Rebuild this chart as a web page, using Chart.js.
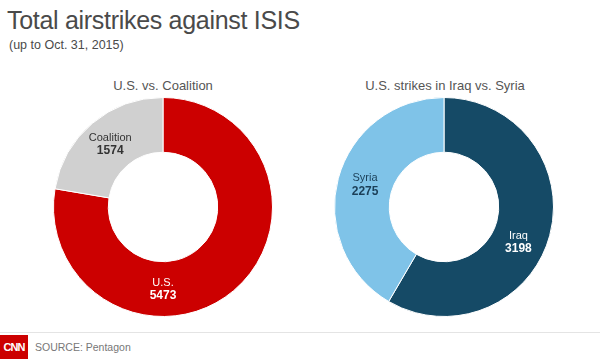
<!DOCTYPE html>
<html>
<head>
<meta charset="utf-8">
<script src="https://cdn.jsdelivr.net/npm/chart.js@4.4.0/dist/chart.umd.min.js"></script>
<style>
  html, body { margin:0; padding:0; background:#ffffff; }
  body { width:600px; height:359px; position:relative; overflow:hidden; font-family:"Liberation Sans", Arial, sans-serif; }
  #title { position:absolute; left:7px; top:6px; font-size:25px; color:#4a4a4a; letter-spacing:-0.3px; white-space:nowrap; }
  #subtitle { position:absolute; left:9px; top:38px; font-size:12.5px; color:#4a4a4a; white-space:nowrap; }
  .ctitle { position:absolute; top:78px; font-size:13px; color:#555; white-space:nowrap; transform:translateX(-50%); }
  .box { position:absolute; top:95px; width:224px; height:224px; }
  #footer { position:absolute; left:0; top:332px; width:600px; height:1px; background:#e4e4e4; }
  #logo { position:absolute; left:0; top:335px; width:28px; height:24px; background:#cc0000; color:#fff; font-weight:bold; font-size:11px; line-height:24px; text-align:center; letter-spacing:-1px; }
  #source { position:absolute; left:35px; top:341px; font-size:10.5px; color:#777; white-space:nowrap; }
</style>
</head>
<body>
<div id="title">Total airstrikes against ISIS</div>
<div id="subtitle">(up to Oct. 31, 2015)</div>
<div class="ctitle" style="left:163px">U.S. vs. Coalition</div>
<div class="ctitle" style="left:445px">U.S. strikes in Iraq vs. Syria</div>
<div class="box" style="left:51px"><canvas id="c1"></canvas></div>
<div class="box" style="left:332px"><canvas id="c2"></canvas></div>
<div id="footer"></div>
<div id="logo">CNN</div>
<div id="source">SOURCE: Pentagon</div>
<script>
// Left chart: U.S. vs. Coalition
const leftCategories = ["U.S.", "Coalition"];
const leftValues = [5473, 1574];
const leftColors = ["#cc0000", "#d0d0d0"];
const leftLabelColors = ["#ffffff", "#333333"];
const leftLabelAngles = [90, -130];   // degrees where each label sits

// Right chart: U.S. strikes in Iraq vs. Syria
const rightCategories = ["Iraq", "Syria"];
const rightValues = [3198, 2275];
const rightColors = ["#154a66", "#7fc3e8"];
const rightLabelColors = ["#ffffff", "#1b3f58"];
const rightLabelAngles = [25, -164];

const labelPlugin = {
  id: 'segLabels',
  afterDatasetsDraw(chart, args, opts) {
    const ctx = chart.ctx;
    const meta = chart.getDatasetMeta(0);
    const ds = chart.data.datasets[0];
    meta.data.forEach((arc, i) => {
      const p = arc.getProps(['x','y','innerRadius','outerRadius'], true);
      const r = (p.innerRadius + p.outerRadius) / 2;
      const a = opts.angles[i] * Math.PI / 180;
      const x = p.x + Math.cos(a) * r;
      const y = p.y + Math.sin(a) * r;
      ctx.save();
      ctx.fillStyle = opts.colors[i];
      ctx.textAlign = 'center';
      ctx.textBaseline = 'middle';
      ctx.font = '11px "Liberation Sans", Arial, sans-serif';
      ctx.fillText(chart.data.labels[i], x, y - 6);
      ctx.font = 'bold 12px "Liberation Sans", Arial, sans-serif';
      ctx.fillText(String(ds.data[i]), x, y + 7);
      ctx.restore();
    });
  }
};

function makeDonut(id, labels, values, colors, labelColors, angles) {
  return new Chart(document.getElementById(id), {
    type: 'doughnut',
    data: { labels: labels, datasets: [{ data: values, backgroundColor: colors, borderColor: '#ffffff', borderWidth: 1 }] },
    options: {
      responsive: true,
      maintainAspectRatio: false,
      animation: false,
      cutout: '50%',
      rotation: 0,
      layout: { padding: 2 },
      plugins: {
        legend: { display: false },
        tooltip: { enabled: false },
        segLabels: { angles: angles, colors: labelColors }
      }
    },
    plugins: [labelPlugin]
  });
}
makeDonut('c1', leftCategories, leftValues, leftColors, leftLabelColors, leftLabelAngles);
makeDonut('c2', rightCategories, rightValues, rightColors, rightLabelColors, rightLabelAngles);
</script>
</body>
</html>
